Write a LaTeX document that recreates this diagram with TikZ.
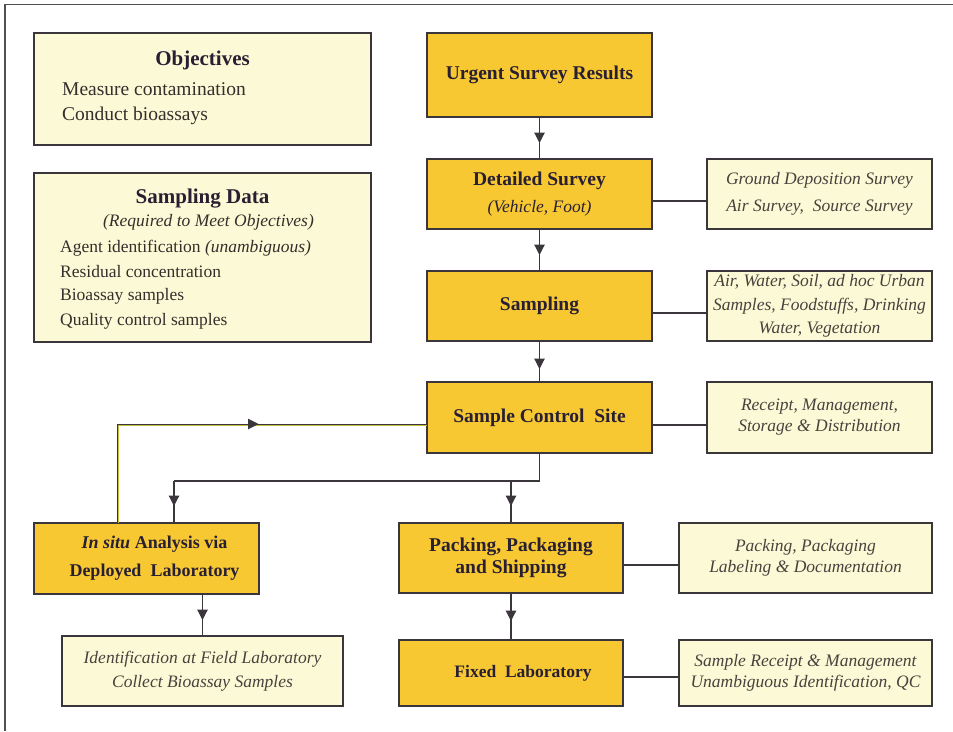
\documentclass[tikz,border=0pt]{standalone}
\usepackage{fontspec}
\setmainfont{Liberation Serif}
\usetikzlibrary{arrows.meta,decorations.markings,calc}

\definecolor{gold}{RGB}{248,200,50}
\definecolor{cream}{RGB}{252,250,214}
\definecolor{edge}{RGB}{58,54,60}
\definecolor{ink}{RGB}{40,32,50}
\definecolor{softink}{RGB}{70,66,62}
\definecolor{bodyink}{RGB}{52,46,44}
\definecolor{olive}{RGB}{196,190,62}
\definecolor{framegray}{RGB}{80,80,80}

\tikzset{
  goldbox/.style={draw=edge, line width=1.3pt, fill=gold, inner sep=0pt, outer sep=0pt,
    text=ink, align=center, font=\bfseries\fontsize{19.5}{#1}\selectfont},
  goldbox/.default=23,
  creambox/.style={draw=edge, line width=1.3pt, fill=cream, inner sep=0pt, outer sep=0pt,
    text=softink, align=center, font=\itshape\fontsize{17.5}{#1}\selectfont},
  creambox/.default=21,
  headtxt/.style={inner sep=0pt, text=ink, font=\bfseries\fontsize{21}{24}\selectfont},
  bodytxt/.style={inner sep=0pt, anchor=west, text=bodyink, font=\fontsize{#1}{22}\selectfont},
  bodytxt/.default=17.5,
  link/.style={draw=edge, line width=1.2pt},
  flow/.style={link, postaction={decorate},
    decoration={markings, mark=at position #1 with {\arrow{Triangle[length=10.5pt,width=10.5pt]}}}},
  flow/.default=-16pt
}

\begin{document}
\begin{tikzpicture}[x=1pt, y=-1pt]
\useasboundingbox (0,0) rectangle (953,731);

% page frame (left and top rules)
\draw[framegray, line width=1.3pt] (5,731) -- (5,4.5) -- (953,4.5);

% objectives and sampling data panels
\node[creambox, minimum width=337pt, minimum height=112pt] (objectives) at (202.5,89) {};
\node[headtxt] (objtitle) at (202.5,60) {Objectives};
\node[bodytxt=19.5] (obj1) at (62,89) {Measure contamination};
\node[bodytxt=19.5] (obj2) at (62,116) {Conduct bioassays};

\node[creambox, minimum width=337pt, minimum height=169pt] (sdata) at (202.5,257.5) {};
\node[headtxt] (sdtitle) at (202.5,199) {Sampling Data};
\node[inner sep=0pt, text=bodyink, font=\itshape\fontsize{17.5}{21}\selectfont] (sdsub) at (208.5,222) {(Required to Meet Objectives)};
\node[bodytxt] (sd1) at (60,248) {Agent identification \textit{(unambiguous)}};
\node[bodytxt] (sd2) at (60,272) {Residual concentration};
\node[bodytxt] (sd3) at (60,296) {Bioassay samples};
\node[bodytxt] (sd4) at (60,321) {Quality control samples};

% main process chain
\node[goldbox, minimum width=225pt, minimum height=84pt] (urgent) at (539.5,75) {Urgent Survey Results};
\node[goldbox=27, minimum width=225pt, minimum height=70pt] (detailed) at (539.5,194)
  {Detailed Survey\\{\mdseries\itshape\fontsize{17.5}{27}\selectfont (Vehicle, Foot)}};
\node[goldbox, minimum width=225pt, minimum height=70pt] (sampling) at (539.5,306) {Sampling};
\node[goldbox, minimum width=225pt, minimum height=71pt] (control) at (539.5,417.5) {Sample Control\ \ Site};
\node[goldbox=28, minimum width=225pt, minimum height=71pt, font=\bfseries\fontsize{18}{28}\selectfont] (insitu) at (146.5,558.5)
  {\hspace*{16pt}\textit{In situ} Analysis via\\\hspace*{16pt}Deployed\ \ Laboratory};
\node[goldbox=22, minimum width=224pt, minimum height=70pt] (packing) at (511,558) {Packing, Packaging\\and Shipping};
\node[goldbox, minimum width=224pt, minimum height=66pt, font=\bfseries\fontsize{17.5}{21}\selectfont] (fixed) at (511,673) {\hspace*{24pt}Fixed\ \ Laboratory};

% detail panels
\node[creambox=27, minimum width=225pt, minimum height=70pt] (side1) at (819.5,194)
  {Ground Deposition Survey\\Air Survey,\ \ Source Survey};
\node[creambox=23.5, minimum width=225pt, minimum height=70pt] (side2) at (819.5,306)
  {Air, Water, Soil, ad hoc Urban\\Samples, Foodstuffs, Drinking\\Water, Vegetation};
\node[creambox=21, minimum width=225pt, minimum height=71pt] (side3) at (819.5,417.5)
  {Receipt, Management,\\Storage \& Distribution};
\node[creambox=20.5, minimum width=253pt, minimum height=70pt] (side4) at (805.5,558)
  {Packing, Packaging\\Labeling \& Documentation};
\node[creambox=20.5, minimum width=253pt, minimum height=66pt] (side5) at (805.5,673)
  {Sample Receipt \& Management\\Unambiguous Identification, QC};
\node[creambox=24, minimum width=281pt, minimum height=70pt] (ident) at (202.5,671)
  {Identification at Field Laboratory\\Collect Bioassay Samples};

% vertical flow
\draw[flow] (urgent) -- (detailed);
\draw[flow] (detailed) -- (sampling);
\draw[flow=-13pt] (sampling) -- (control);
\draw[flow=-19pt] (packing) -- (fixed);
\draw[flow] (ident.north |- insitu.south) -- (ident.north);

% distribution from the sample control site
\coordinate (bus) at (0,481);
\coordinate (tapin) at ($(insitu.north)+(27.5,0)$);
\draw[link] (control.south) -- (control.south |- bus) -- (tapin |- bus);
\draw[flow=-17pt] (tapin |- bus) -- (tapin);
\draw[flow=-17pt] (packing.north |- bus) -- (packing.north);

% side connectors
\draw[link] ($(detailed.east)+(0,7)$) coordinate (c1) -- (c1 -| side1.west);
\draw[link] ($(sampling.east)+(0,7)$) coordinate (c2) -- (c2 -| side2.west);
\draw[link] ($(control.east)+(0,7.5)$) coordinate (c3) -- (c3 -| side3.west);
\draw[link] ($(packing.east)+(0,7)$) coordinate (c4) -- (c4 -| side4.west);
\draw[link] ($(fixed.east)+(0,4)$) coordinate (c5) -- (c5 -| side5.west);

% feedback from the deployed laboratory
\coordinate (fbstart) at ($(insitu.north)+(-29,0)$);
\draw[olive, line width=1pt] ($(fbstart)+(1.3,0)$) |- ($(control.west)+(0,7.8)$);
\draw[flow=240pt, line width=1pt] (fbstart) |- ($(control.west)+(0,6.5)$);
\end{tikzpicture}
\end{document}
